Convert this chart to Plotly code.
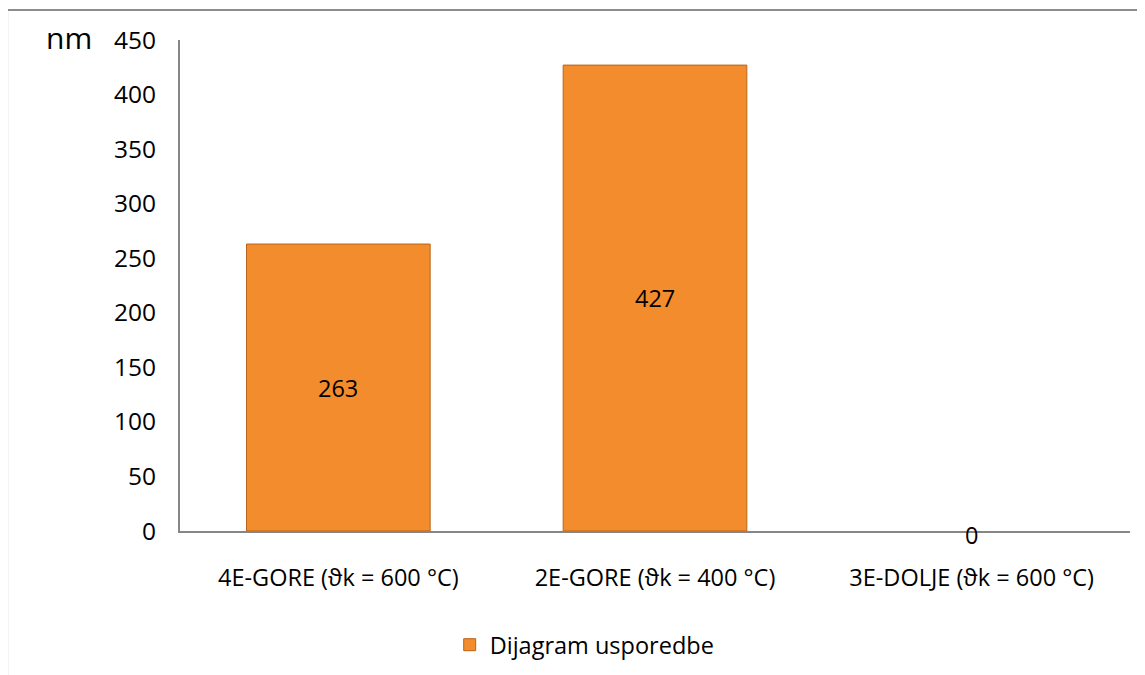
import plotly.graph_objects as go

categories = ["4E-GORE (ϑk = 600 °C)", "2E-GORE (ϑk = 400 °C)", "3E-DOLJE (ϑk = 600 °C)"]
values = [263, 427, 0]
series_name = "Dijagram usporedbe"
y_ticks = [0, 50, 100, 150, 200, 250, 300, 350, 400, 450]

FONT = "'Open Sans', sans-serif"

fig = go.Figure()
fig.add_trace(go.Bar(
    x=categories, y=values, name=series_name,
    width=0.58,
    marker=dict(color="#F28C2C",
                line=dict(color="#B8641C", width=[1 if v > 0 else 0 for v in values])),
    showlegend=True,
))

annotations = [
    dict(x=c, y=v / 2, text=str(v), showarrow=False, xref="x", yref="y",
         yanchor="middle", yshift=-4 if v == 0 else 0,
         font=dict(size=23.5, color="#000", family=FONT))
    for c, v in zip(categories, values)
]
annotations.append(dict(x=-0.117, y=1.005, xref="paper", yref="paper", text="nm",
                        showarrow=False, xanchor="center", yanchor="middle",
                        font=dict(size=30, color="#000", family=FONT)))

# page body has an 8px margin: figure is 8px smaller and offset accordingly
fig.update_layout(
    width=1137, height=667,
    margin=dict(l=172, r=15, t=32, b=144, autoexpand=False),
    paper_bgcolor="white", plot_bgcolor="white",
    font=dict(family=FONT, size=23.5, color="#000"),
    bargap=0.42,
    annotations=annotations,
    legend=dict(orientation="h", x=0.426, y=-0.232, xanchor="center", yanchor="middle",
                font=dict(size=23.5, family=FONT), itemwidth=30),
    shapes=[dict(type="rect", xref="paper", yref="paper",
                 x0=-0.182, x1=1.03, y0=-0.31, y1=1.061,
                 line=dict(color="#8C8C8C", width=2), fillcolor="rgba(0,0,0,0)", layer="below")],
    xaxis=dict(showline=True, linecolor="#868686", linewidth=2, ticks="",
               showgrid=False, ticklabelstandoff=25, tickfont=dict(size=23.5)),
    yaxis=dict(range=[0, 450], tickvals=y_ticks, showline=True, linecolor="#868686",
               linewidth=2, ticks="", showgrid=False, zeroline=False,
               ticklabelstandoff=17, tickfont=dict(size=24.5)),
)

fig.write_html("out.html")
